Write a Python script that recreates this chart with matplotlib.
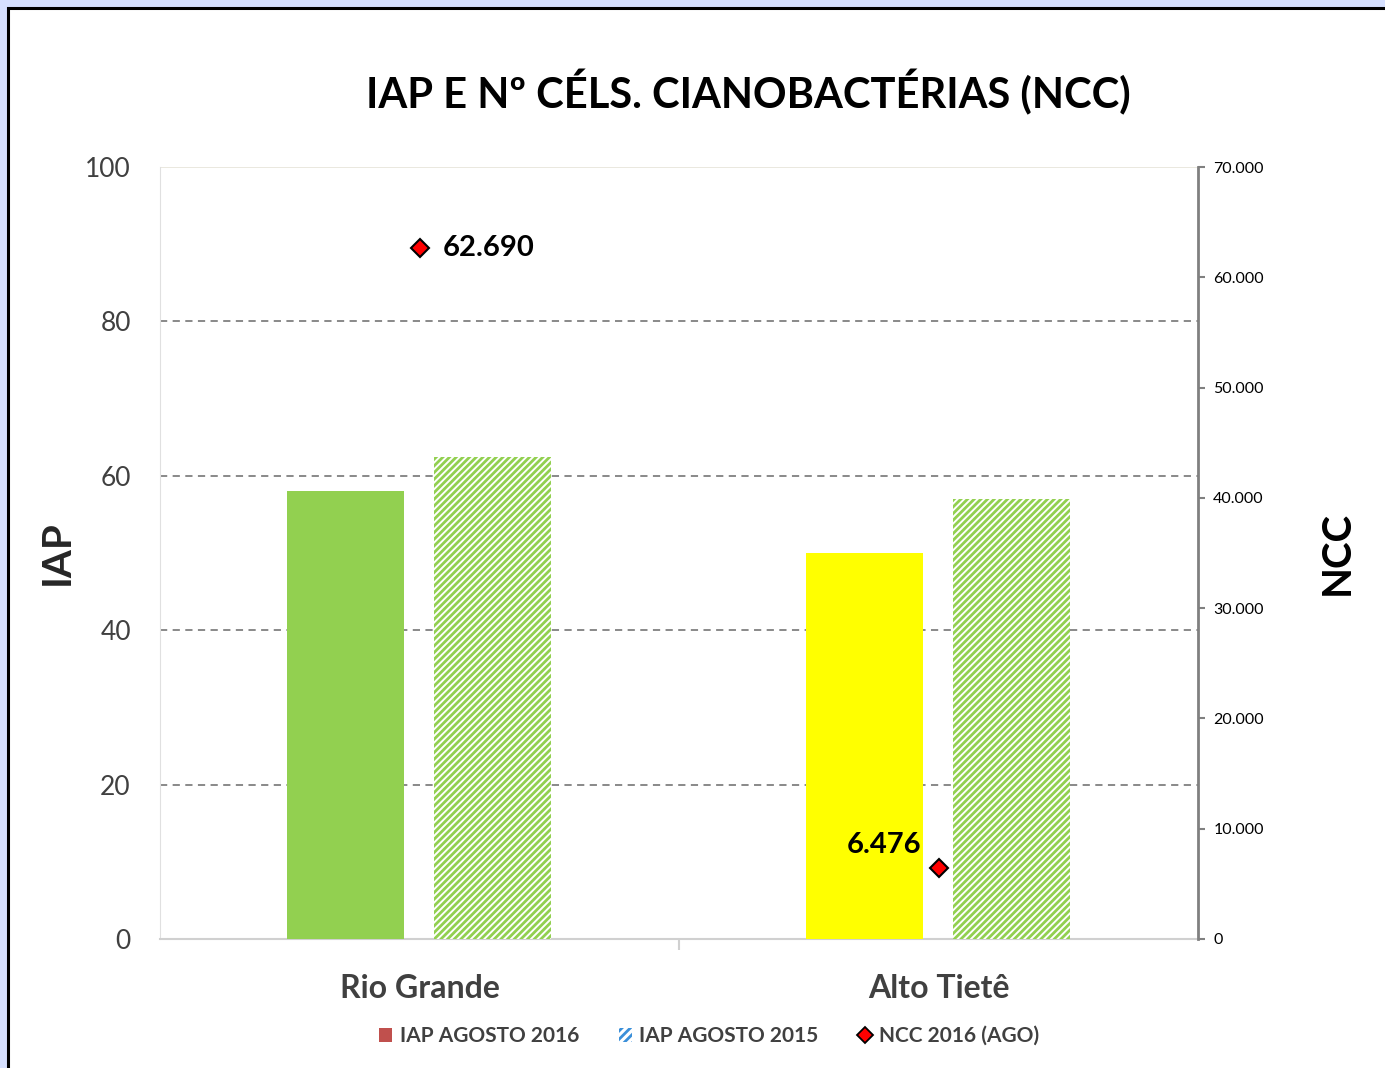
import matplotlib
matplotlib.use("Agg")
import matplotlib.pyplot as plt
from matplotlib.patches import Patch, Rectangle
from matplotlib.lines import Line2D
import numpy as np

plt.rcParams['font.family'] = ['Lato', 'DejaVu Sans']
plt.rcParams['hatch.linewidth'] = 2.0

categories = ["Rio Grande", "Alto Tietê"]
iap_2016 = [58, 50]
iap_2015 = [62.5, 57]
ncc_2016 = [62690, 6476]
ncc_labels = ["62.690", "6.476"]
bar_colors_2016 = ["#92D050", "#FFFF00"]
left_ticks = [0, 20, 40, 60, 80, 100]
right_ticks = [0, 10000, 20000, 30000, 40000, 50000, 60000, 70000]
right_tick_labels = ["0", "10.000", "20.000", "30.000", "40.000", "50.000", "60.000", "70.000"]

W, H = 1385, 1068
fig = plt.figure(figsize=(W/100, H/100), dpi=100, facecolor="#D6E0FF")
# white framed panel
fig.patches.append(Rectangle((8/W, -0.05), 1.1, 1 - 8/H + 0.05, transform=fig.transFigure,
                             facecolor="white", edgecolor="black", linewidth=2.2, zorder=-10))

ax = fig.add_axes([160/W, 1-939/H, (1198-160)/W, (939-167)/H])
ax.set_facecolor("none")
x = np.arange(len(categories))
bw = 0.225
ax.bar(x - 0.142, iap_2016, width=bw, color=bar_colors_2016, zorder=3)
ax.bar(x + 0.141, iap_2015, width=bw, color="white", edgecolor="#92D050", hatch="/////",
       linewidth=0, zorder=3)
ax.set_xlim(-0.5, 1.5)
ax.set_ylim(0, 100)
ax.set_yticks(left_ticks)
ax.tick_params(axis='y', length=0, labelsize=19, colors="#404040", pad=21)
for v in [20, 40, 60, 80]:
    ax.axhline(v, color="#808080", linestyle=(0, (4, 3)), linewidth=1.3, zorder=1)
ax.axhline(100, color="#E8E6DC", linewidth=1.3, zorder=1)
for s in ["top", "right"]:
    ax.spines[s].set_visible(False)
ax.spines["left"].set_color("#E0E0E0")
ax.spines["bottom"].set_color("#D0D0D0")
ax.spines["bottom"].set_linewidth(1.5)
ax.set_xticks(x)
ax.set_xticklabels(categories, fontsize=23, fontweight="bold", color="#404040")
ax.tick_params(axis='x', length=0, pad=25)
ax.set_xticks([0.5], minor=True)
ax.tick_params(axis='x', which='minor', length=8, color="#D0D0D0", width=1.5)
ax.set_ylabel("IAP", fontsize=29, fontweight="bold", labelpad=0, color="#262626")
ax.yaxis.set_label_coords(-84/1038, 0.5)

ax2 = ax.twinx()
ax2.set_ylim(0, 70000)
ax2.set_yticks(right_ticks)
ax2.set_yticklabels(right_tick_labels)
ax2.tick_params(axis='y', length=5, width=1.5, color="#808080", labelsize=11.5, pad=6)
for s in ["top", "left", "bottom"]:
    ax2.spines[s].set_visible(False)
ax2.spines["right"].set_color("#808080")
ax2.spines["right"].set_linewidth(2)
ax2.plot(x, ncc_2016, linestyle="none", marker="D", markersize=9, markerfacecolor="#FF0000",
         markeredgecolor="black", markeredgewidth=1.5, zorder=5)
ax2.annotate(ncc_labels[0], (x[0], ncc_2016[0]), xytext=(17, 0), textcoords="offset points",
             ha="left", va="center", fontsize=21, fontweight="bold")
ax2.annotate(ncc_labels[1], (x[1], ncc_2016[1]), xytext=(-12, 16), textcoords="offset points",
             ha="right", va="center", fontsize=21, fontweight="bold")
ax2.set_ylabel("NCC", fontsize=29, fontweight="bold", color="#000000")
ax2.yaxis.set_label_coords((1319 - 160)/1038, 0.5)

fig.text(748/W, 1-92/H, "IAP E Nº CÉLS. CIANOBACTÉRIAS (NCC)", ha="center", va="center",
         fontsize=30, fontweight="bold")

handles = [Patch(facecolor="#C0504D", edgecolor="none"),
           Patch(facecolor="white", edgecolor="#3A8FD9", hatch="////", linewidth=0),
           Line2D([], [], linestyle="none", marker="D", markersize=8, markerfacecolor="#FF0000",
                  markeredgecolor="black", markeredgewidth=1.3)]
labels = ["IAP AGOSTO 2016", "IAP AGOSTO 2015", "NCC 2016 (AGO)"]
leg = fig.legend(handles, labels, loc="center", bbox_to_anchor=(709/W, 1-1036/H), ncol=3,
                 frameon=False, handlelength=0.65, handleheight=0.65, handletextpad=0.35,
                 columnspacing=1.9, prop={"size": 15, "weight": "bold"})
for t in leg.get_texts():
    t.set_color("#404040")

fig.savefig("out.png", dpi=100, facecolor=fig.get_facecolor())
